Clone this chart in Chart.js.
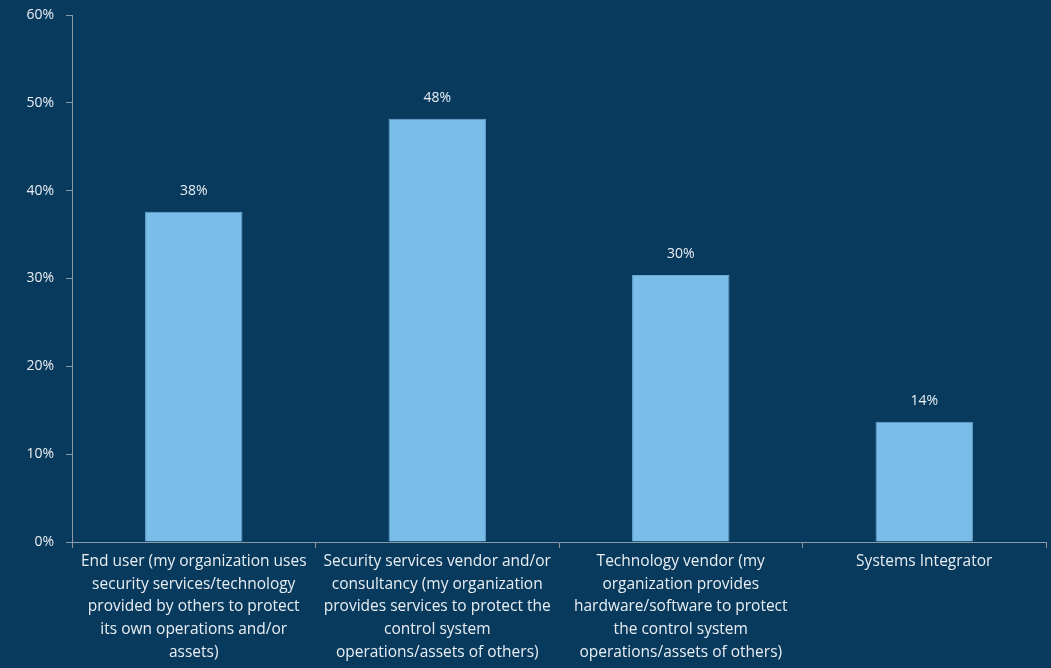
<!DOCTYPE html>
<html>
<head>
<meta charset="utf-8">
<script src="https://cdn.jsdelivr.net/npm/chart.js@4"></script>
<style>
  html, body { margin: 0; padding: 0; background: #083a5e; }
  #wrap { width: 1051px; height: 668px; position: relative; }
</style>
</head>
<body>
<div id="wrap"><canvas id="grafico"></canvas></div>
<script>
// categorias (quebradas em linhas como no original)
const categorias = [
    ['End user (my organization uses', 'security services/technology', 'provided by others to protect', 'its own operations and/or', 'assets)'],
    ['Security services vendor and/or', 'consultancy (my organization', 'provides services to protect the', 'control system', 'operations/assets of others)'],
    ['Technology vendor (my', 'organization provides', 'hardware/software to protect', 'the control system', 'operations/assets of others)'],
    ['Systems Integrator']
];
const valores = [37.6, 48.2, 30.4, 13.7];
const ticksY = [0, 10, 20, 30, 40, 50, 60];

const corTexto = '#e9eef2';
const corEixo = '#8c9aa6';
const fonte = '"Open Sans", sans-serif';

// rótulos acima das barras
const rotulosBarras = {
    id: 'rotulosBarras',
    afterDatasetsDraw(chart) {
        const ctx = chart.ctx;
        const meta = chart.getDatasetMeta(0);
        ctx.save();
        ctx.fillStyle = corTexto;
        ctx.font = '14px ' + fonte;
        ctx.textAlign = 'center';
        ctx.textBaseline = 'middle';
        meta.data.forEach((bar, i) => {
            ctx.fillText(Math.round(valores[i]) + '%', bar.x, bar.y - 21);
        });
        ctx.restore();
    }
};

new Chart(document.getElementById('grafico'), {
    type: 'bar',
    data: {
        labels: categorias,
        datasets: [{
            data: valores,
            backgroundColor: '#7bbde9',
            borderColor: '#6aa6d2',
            borderWidth: 1,
            categoryPercentage: 1,
            barPercentage: 0.4
        }]
    },
    options: {
        responsive: true,
        maintainAspectRatio: false,
        animation: false,
        layout: { padding: { top: 15, right: 5, left: 0, bottom: 0 } },
        plugins: { legend: { display: false }, tooltip: { enabled: false } },
        scales: {
            y: {
                min: 0,
                max: 60,
                afterFit: (s) => { s.width = 72; s.paddingTop = 0; s.paddingBottom = 0; },
                afterBuildTicks: (s) => { s.ticks = ticksY.map(v => ({ value: v })); },
                border: { color: corEixo, width: 1 },
                grid: { drawOnChartArea: false, drawTicks: true, tickLength: 6, color: corEixo },
                ticks: {
                    color: corTexto,
                    font: { family: fonte, size: 14 },
                    padding: 12,
                    callback: (v) => v + '%'
                }
            },
            x: {
                afterFit: (s) => { s.height = 126; },
                border: { color: corEixo, width: 1 },
                grid: { drawOnChartArea: false, drawTicks: true, tickLength: 6, color: corEixo, offset: true },
                ticks: {
                    color: corTexto,
                    font: { family: fonte, size: 15.5, lineHeight: 1.47 },
                    padding: 2,
                    maxRotation: 0,
                    autoSkip: false
                }
            }
        }
    },
    plugins: [rotulosBarras]
});
</script>
</body>
</html>
